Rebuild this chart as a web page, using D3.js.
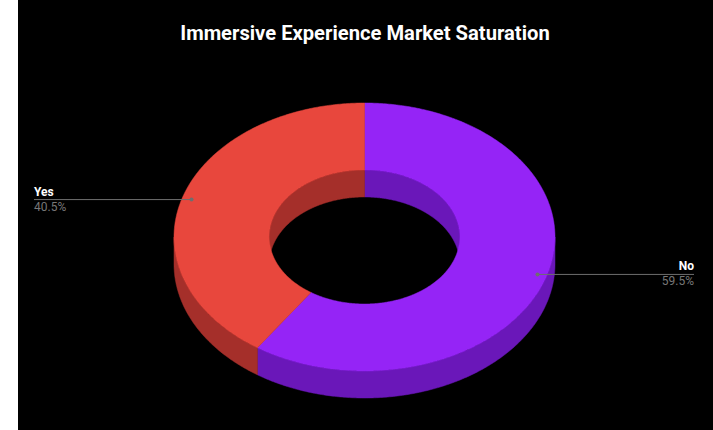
<!DOCTYPE html>
<html>
<head>
<meta charset="utf-8">
<script src="https://cdn.jsdelivr.net/npm/d3@7/dist/d3.min.js"></script>
<style>
  html, body { margin: 0; padding: 0; background: #ffffff; }
  svg { display: block; }
</style>
</head>
<body>
<svg id="chart" width="713" height="430"></svg>
<script>
// Survey answers and their shares
const categories = ["No", "Yes"];
const shares = [59.5, 40.5];
const shareLabels = ["59.5%", "40.5%"];
const topColors = ["#9524f6", "#e8473d"];
const sideColors = ["#6a17b9", "#a52f2a"];

const W = 713, H = 430;
const svg = d3.select("#chart");

// dark panel
svg.append("rect").attr("x", 18).attr("y", 0).attr("width", W - 18).attr("height", H).attr("fill", "#000");

svg.append("text")
  .attr("x", 365).attr("y", 40)
  .attr("text-anchor", "middle")
  .attr("font-family", "Roboto, 'Noto Sans', sans-serif")
  .attr("font-weight", 700)
  .attr("font-size", 20.2)
  .attr("fill", "#fff")
  .text("Immersive Experience Market Saturation");

// tilted donut geometry
const cx = 364.5, cy = 237;
const rx = 190.5, ry = 134, depth = 27;
const innerRatio = 0.5;

const pie = d3.pie().sort(null).value(d => d);
const arcs = pie(shares).map((a, i) => ({ ...a, i }));

// point on an ellipse for angle measured clockwise from 12 o'clock
const pt = (t, k, dy = 0) => [cx + rx * k * Math.sin(t), cy - ry * k * Math.cos(t) + dy];
const samples = (a0, a1) => {
  const n = Math.max(2, Math.ceil(Math.abs(a1 - a0) / 0.01));
  return d3.range(n + 1).map(j => a0 + (a1 - a0) * j / n);
};
const line = d3.line().curve(d3.curveLinear);
const clipRange = (a, lo, hi) => [Math.max(a.startAngle, lo), Math.min(a.endAngle, hi)];

const g = svg.append("g");

// inner wall (back half of the hole: angles -90°..90°, i.e. 270°..360° and 0°..90°)
arcs.forEach(a => {
  [[-Math.PI / 2 + 2 * Math.PI, 2 * Math.PI], [0, Math.PI / 2]].forEach(([lo, hi]) => {
    const [s, e] = clipRange(a, lo, hi);
    if (e <= s) return;
    const ts = samples(s, e);
    const pts = ts.map(t => pt(t, innerRatio)).concat(ts.slice().reverse().map(t => pt(t, innerRatio, depth)));
    g.append("path").attr("d", line(pts) + "Z").attr("fill", sideColors[a.i]).attr("stroke", sideColors[a.i]).attr("stroke-width", 0.5);
  });
});

// outer wall (front half: 90°..270°)
arcs.forEach(a => {
  const [s, e] = clipRange(a, Math.PI / 2, 3 * Math.PI / 2);
  if (e <= s) return;
  const ts = samples(s, e);
  const pts = ts.map(t => pt(t, 1)).concat(ts.slice().reverse().map(t => pt(t, 1, depth)));
  g.append("path").attr("d", line(pts) + "Z").attr("fill", sideColors[a.i]).attr("stroke", sideColors[a.i]).attr("stroke-width", 0.5);
});

// top faces
arcs.forEach(a => {
  const ts = samples(a.startAngle, a.endAngle);
  const pts = ts.map(t => pt(t, 1)).concat(ts.slice().reverse().map(t => pt(t, innerRatio)));
  g.append("path").attr("d", line(pts) + "Z").attr("fill", topColors[a.i]).attr("stroke", topColors[a.i]).attr("stroke-width", 0.5);
});

// leader lines and labels
const labelFont = "Roboto, 'Noto Sans', sans-serif";
arcs.forEach(a => {
  const mid = (a.startAngle + a.endAngle) / 2;
  const [px, py] = pt(mid, 0.95);
  const right = Math.sin(mid) > 0;
  const tx = right ? 694 : 34;
  g.append("line").attr("x1", px).attr("y1", py).attr("x2", tx).attr("y2", py)
    .attr("stroke", "#6e6e6e").attr("stroke-width", 1);
  g.append("circle").attr("cx", px).attr("cy", py).attr("r", 2).attr("fill", "#6e6e6e");
  g.append("text").attr("x", tx).attr("y", py - 4)
    .attr("text-anchor", right ? "end" : "start")
    .attr("font-family", labelFont).attr("font-weight", 700).attr("font-size", 12)
    .attr("fill", "#fff").text(categories[a.i]);
  g.append("text").attr("x", tx).attr("y", py + 11)
    .attr("text-anchor", right ? "end" : "start")
    .attr("font-family", labelFont).attr("font-size", 12)
    .attr("fill", "#777").text(shareLabels[a.i]);
});
</script>
</body>
</html>
